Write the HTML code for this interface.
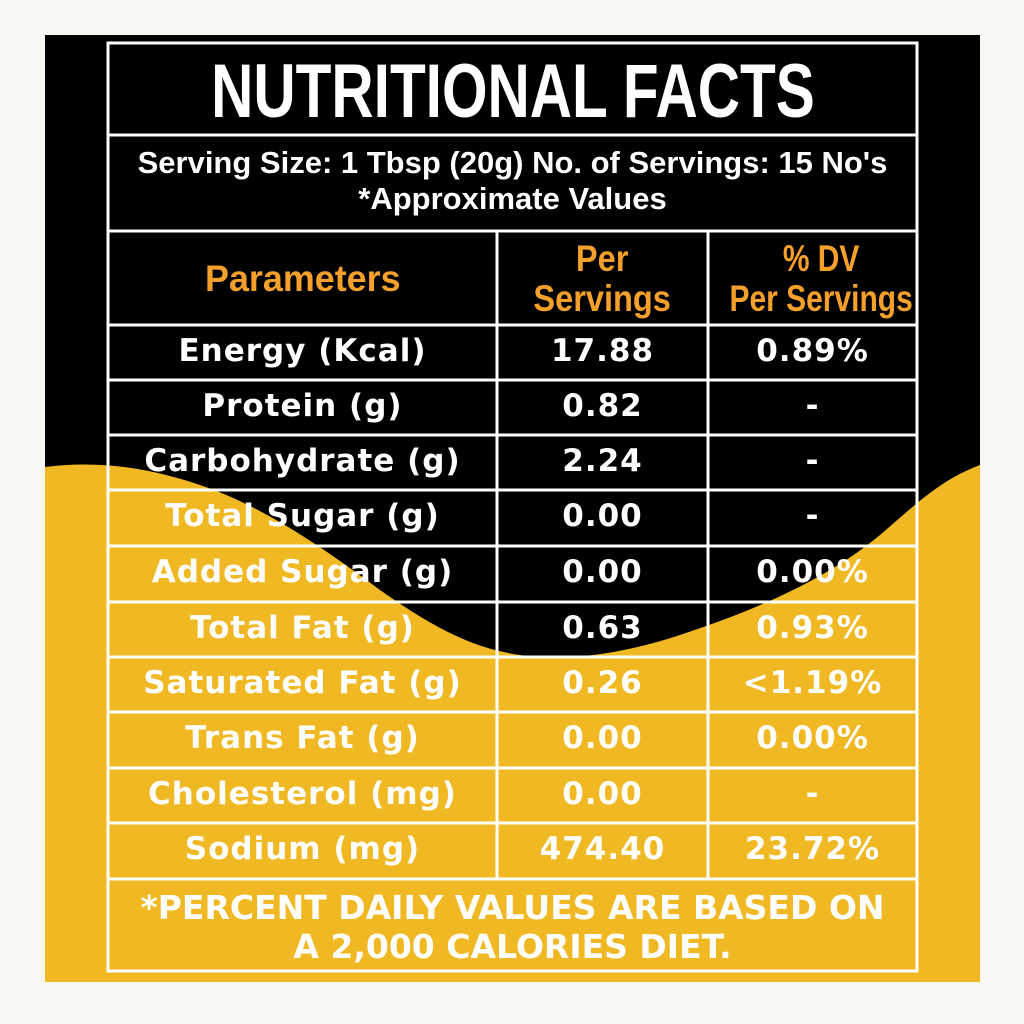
<!DOCTYPE html>
<html><head><meta charset="utf-8">
<style>
html,body{margin:0;padding:0;width:1024px;height:1024px;overflow:hidden;background:#f9f7f2;}
#wrap{position:relative;width:1024px;height:1024px;}
svg{position:absolute;left:0;top:0;}
.t{position:absolute;color:#fff;text-align:center;white-space:nowrap;}
.cond{font-family:"Liberation Sans Narrow","Liberation Sans",sans-serif;font-weight:bold;}
.body{font-family:"DejaVu Sans","Liberation Sans",sans-serif;font-weight:bold;font-size:31px;letter-spacing:1px;line-height:55px;}
.hdr{color:#f5a02a;font-size:37px;line-height:40px;}
</style></head>
<body>
<div id="wrap">
<svg width="1024" height="1024">
  <rect x="45" y="35" width="935" height="947" fill="#f0b822"/>
  <path d="M45,35 L980,35 L980,465 C940,480 915,505 880,535 C820,585 740,615 680,635 C620,655 560,662 520,655 C470,648 430,625 380,590 C320,545 260,505 200,485 C150,468 100,460 45,467 Z" fill="#000"/>
  <g stroke="#fff" stroke-width="3" fill="none">
    <rect x="108" y="43" width="809" height="928"/>
    <line x1="108" y1="135" x2="917" y2="135"/>
    <line x1="108" y1="231" x2="917" y2="231"/>
    <line x1="108" y1="325" x2="917" y2="325"/>
    <line x1="108" y1="380" x2="917" y2="380"/>
    <line x1="108" y1="435" x2="917" y2="435"/>
    <line x1="108" y1="490" x2="917" y2="490"/>
    <line x1="108" y1="546" x2="917" y2="546"/>
    <line x1="108" y1="602" x2="917" y2="602"/>
    <line x1="108" y1="657" x2="917" y2="657"/>
    <line x1="108" y1="712" x2="917" y2="712"/>
    <line x1="108" y1="768" x2="917" y2="768"/>
    <line x1="108" y1="823" x2="917" y2="823"/>
    <line x1="108" y1="879" x2="917" y2="879"/>
    <line x1="497" y1="231" x2="497" y2="879"/>
    <line x1="708" y1="231" x2="708" y2="879"/>
  </g>
</svg>

<div class="t cond" style="left:108px;width:809px;top:52px;font-size:76px;line-height:80px;"><span style="display:inline-block;transform:scaleX(0.77);">NUTRITIONAL FACTS</span></div>
<div class="t cond" style="left:108px;width:809px;top:145px;font-size:31px;line-height:36px;">Serving Size: 1 Tbsp (20g) No. of Servings: 15 No's<br>*Approximate Values</div>

<div class="t cond hdr" style="left:108px;width:389px;top:259px;"><span style="display:inline-block;transform:scaleX(0.97);">Parameters</span></div>
<div class="t cond hdr" style="left:497px;width:211px;top:239px;"><span style="display:inline-block;transform:scaleX(0.88);">Per<br>Servings</span></div>
<div class="t cond hdr" style="left:708px;width:209px;top:239px;"><span style="display:inline-block;transform:scaleX(0.81);">% DV<br>Per Servings</span></div>

<div id="rows"></div>

<div class="t" style="left:108px;width:809px;top:888px;font-family:'DejaVu Sans','Liberation Sans',sans-serif;font-weight:bold;font-size:33px;line-height:39px;">*PERCENT DAILY VALUES ARE BASED ON<br>A 2,000 CALORIES DIET.</div>
</div>
<script>
const params=["Energy (Kcal)","Protein (g)","Carbohydrate (g)","Total Sugar (g)","Added Sugar (g)","Total Fat (g)","Saturated Fat (g)","Trans Fat (g)","Cholesterol (mg)","Sodium (mg)"];
const perServing=["17.88","0.82","2.24","0.00","0.00","0.63","0.26","0.00","0.00","474.40"];
const dv=["0.89%","-","-","-","0.00%","0.93%","<1.19%","0.00%","-","23.72%"];
const tops=[325,380,435,490,546,602,657,712,768,823];
const rows=document.getElementById('rows');
params.forEach((p,i)=>{
  const y=tops[i]-1;
  const a=document.createElement('div');a.className='t body';
  a.style.cssText=`left:108px;width:389px;top:${y}px;`;a.textContent=p;
  
  
  rows.appendChild(a);
  const b=document.createElement('div');b.className='t body';
  b.style.cssText=`left:497px;width:211px;top:${y}px;`;b.textContent=perServing[i];
  
  
  rows.appendChild(b);
  const c=document.createElement('div');c.className='t body';
  c.style.cssText=`left:708px;width:209px;top:${y}px;`;c.textContent=dv[i];
  
  
  rows.appendChild(c);
});
</script>
</body></html>
